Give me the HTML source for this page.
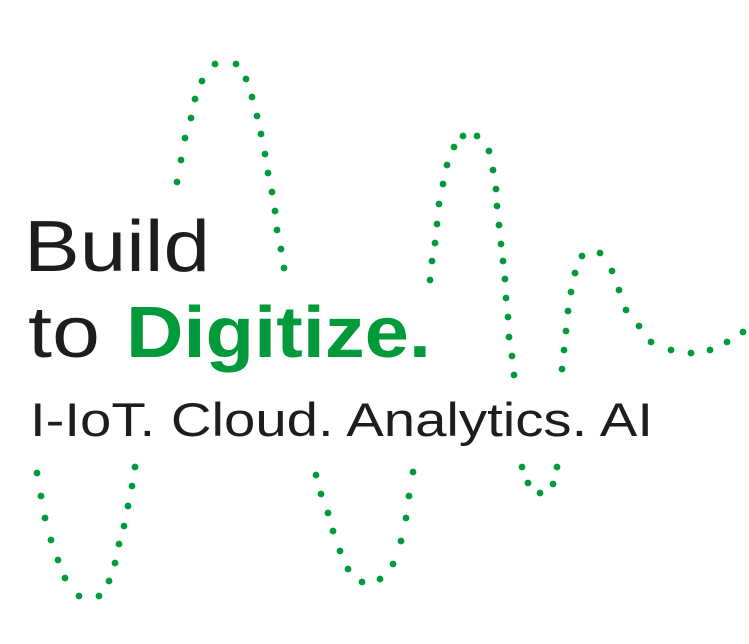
<!DOCTYPE html>
<html><head><style>html,body{margin:0;padding:0;background:#fff}svg{display:block}</style></head>
<body>
<svg width="749" height="644" viewBox="0 0 749 644" xmlns="http://www.w3.org/2000/svg">
<g fill="#009a3a">
<circle cx="215" cy="64" r="3.4"/><circle cx="236" cy="64" r="3.4"/><circle cx="202" cy="81" r="3.4"/><circle cx="246" cy="79" r="3.4"/><circle cx="195" cy="99" r="3.4"/><circle cx="252" cy="97" r="3.4"/><circle cx="191" cy="118" r="3.4"/><circle cx="257" cy="116" r="3.4"/><circle cx="185" cy="138" r="3.4"/><circle cx="261" cy="134" r="3.4"/><circle cx="181" cy="160" r="3.4"/><circle cx="265" cy="154" r="3.4"/><circle cx="177" cy="182" r="3.4"/><circle cx="268" cy="173" r="3.4"/><circle cx="272" cy="192" r="3.4"/><circle cx="275" cy="211" r="3.4"/><circle cx="277" cy="230" r="3.4"/><circle cx="281" cy="249" r="3.4"/><circle cx="284" cy="268" r="3.4"/>
<circle cx="430" cy="280" r="3.4"/><circle cx="432" cy="261" r="3.4"/><circle cx="435" cy="243" r="3.4"/><circle cx="437" cy="224" r="3.4"/><circle cx="439" cy="204" r="3.4"/><circle cx="443" cy="184" r="3.4"/><circle cx="447" cy="165" r="3.4"/><circle cx="454" cy="147" r="3.4"/><circle cx="463" cy="136" r="3.4"/><circle cx="477" cy="136" r="3.4"/><circle cx="489" cy="151" r="3.4"/><circle cx="493" cy="170" r="3.4"/><circle cx="496" cy="189" r="3.4"/><circle cx="497" cy="206" r="3.4"/><circle cx="499" cy="225" r="3.4"/><circle cx="501" cy="244" r="3.4"/><circle cx="503" cy="261" r="3.4"/><circle cx="505" cy="279" r="3.4"/><circle cx="506" cy="298" r="3.4"/><circle cx="508" cy="317" r="3.4"/><circle cx="509" cy="337" r="3.4"/><circle cx="512" cy="356" r="3.4"/><circle cx="514" cy="375" r="3.4"/>
<circle cx="562" cy="369" r="3.4"/><circle cx="564" cy="350" r="3.4"/><circle cx="566" cy="331" r="3.4"/><circle cx="568" cy="311" r="3.4"/><circle cx="571" cy="292" r="3.4"/><circle cx="575" cy="273" r="3.4"/><circle cx="582" cy="256" r="3.4"/><circle cx="600" cy="253" r="3.4"/><circle cx="612" cy="271" r="3.4"/><circle cx="619" cy="290" r="3.4"/><circle cx="626" cy="310" r="3.4"/><circle cx="639" cy="326" r="3.4"/><circle cx="651" cy="342" r="3.4"/><circle cx="671" cy="350" r="3.4"/><circle cx="691" cy="353" r="3.4"/><circle cx="710" cy="350" r="3.4"/><circle cx="727" cy="342" r="3.4"/><circle cx="743" cy="332" r="3.4"/>
<circle cx="522" cy="467" r="3.4"/><circle cx="557" cy="467" r="3.4"/><circle cx="528" cy="483" r="3.4"/><circle cx="553" cy="484" r="3.4"/><circle cx="540" cy="493" r="3.4"/>
<circle cx="37" cy="473" r="3.4"/><circle cx="41" cy="496" r="3.4"/><circle cx="45" cy="518" r="3.4"/><circle cx="51" cy="540" r="3.4"/><circle cx="58" cy="560" r="3.4"/><circle cx="65" cy="578" r="3.4"/><circle cx="79" cy="596" r="3.4"/><circle cx="99" cy="596" r="3.4"/><circle cx="109" cy="581" r="3.4"/><circle cx="115" cy="563" r="3.4"/><circle cx="119" cy="544" r="3.4"/><circle cx="124" cy="526" r="3.4"/><circle cx="128" cy="506" r="3.4"/><circle cx="132" cy="486" r="3.4"/><circle cx="135" cy="467" r="3.4"/>
<circle cx="316" cy="475" r="3.4"/><circle cx="321" cy="494" r="3.4"/><circle cx="328" cy="513" r="3.4"/><circle cx="333" cy="531" r="3.4"/><circle cx="340" cy="551" r="3.4"/><circle cx="348" cy="569" r="3.4"/><circle cx="362" cy="582" r="3.4"/><circle cx="380" cy="579" r="3.4"/><circle cx="393" cy="564" r="3.4"/><circle cx="401" cy="541" r="3.4"/><circle cx="406" cy="518" r="3.4"/><circle cx="409" cy="496" r="3.4"/><circle cx="413" cy="472" r="3.4"/>
</g>
<g font-family="Liberation Sans, sans-serif">
<text x="24" y="271" font-size="72" fill="#1d1d1d" textLength="186" lengthAdjust="spacingAndGlyphs">Build</text>
<text x="28" y="357" font-size="72" fill="#1d1d1d" textLength="72" lengthAdjust="spacingAndGlyphs">to</text>
<text x="126" y="357" font-size="72" font-weight="bold" fill="#009a3a" textLength="305" lengthAdjust="spacingAndGlyphs">Digitize.</text>
<text x="30" y="436" font-size="47" fill="#1d1d1d" textLength="623" lengthAdjust="spacingAndGlyphs">I-IoT. Cloud. Analytics. AI</text>
</g>
</svg>
</body></html>
